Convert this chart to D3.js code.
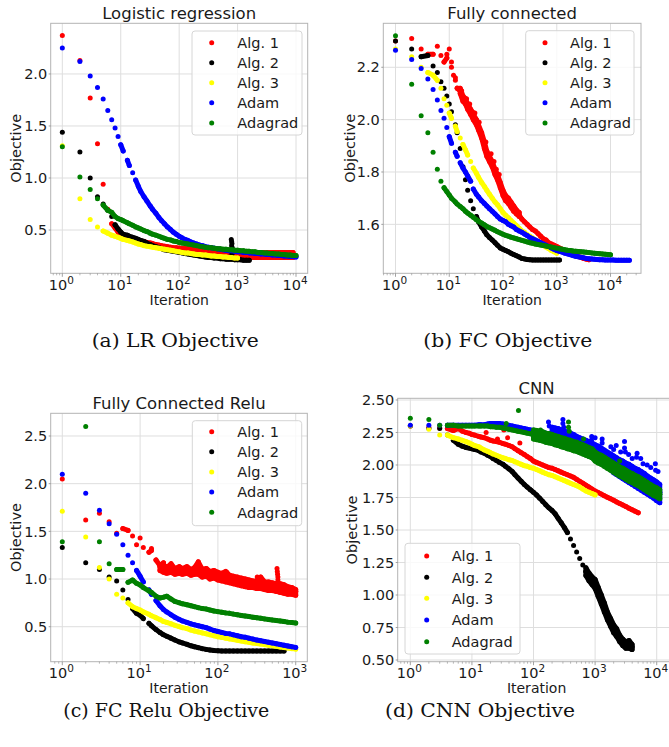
<!DOCTYPE html>
<html>
<head>
<meta charset="utf-8">
<script src="https://cdn.jsdelivr.net/npm/d3@7"></script>
<style>
  body { margin: 0; background: #fff; }
  svg { display: block; }
</style>
</head>
<body>
<svg id="fig" width="669" height="747"></svg>
<script>
// Iterations at which the objective is recorded (shared by every run).
const iterations = [1,2,3,4,5,6,7,8,9,10,
  11,13,14,16,18,20,22,25,28,32,35,40,45,50,56,63,71,79,89,
  100,112,126,141,158,178,200,224,251,282,316,355,398,447,501,562,631,708,794,891,
  1000,1120,1260,1410,1580,1780,2000,2240,2510,2820,3160,3550,3980,4470,5010,5620,6310,7080,7940,8910,
  10000,11200,12600,14100,15800,17800,20000,22400];

const seriesNames = ["Alg. 1", "Alg. 2", "Alg. 3", "Adam", "Adagrad"];
const seriesColors = ["#ff0000", "#000000", "#ffff00", "#0000ff", "#008000"];

// ---- Logistic regression ----
const lrAlg1 = [2.37,2.13,1.77,1.33,0.94,0.70,0.56,0.52,0.48,0.46,
  0.45,0.44,0.43,0.42,0.41,0.40,0.395,0.39,0.38,0.375,0.37,0.36,0.355,0.35,0.345,0.34,0.335,0.33,0.33,
  0.325,0.32,0.32,0.315,0.31,0.31,0.305,0.30,0.30,0.295,0.29,0.29,0.285,0.28,0.28,0.275,0.275,0.27,0.27,0.265,
  0.265,0.26,0.26,0.26,0.26,0.26,0.26,0.26,0.26,0.26,0.26,0.26,0.26,0.26,0.26,0.26,0.26,0.26,0.26,0.26];
// noisy spread [iteration, low, high]
const lrAlg1Band = [[100,0.30,0.325],[112,0.295,0.325],[126,0.29,0.32],[141,0.29,0.32],[158,0.285,0.315],[178,0.28,0.315],
  [200,0.275,0.31],[224,0.275,0.31],[251,0.27,0.305],[282,0.265,0.305],[316,0.26,0.30],[355,0.255,0.30],[398,0.255,0.295],
  [447,0.25,0.295],[501,0.245,0.29],[562,0.245,0.29],[631,0.24,0.29],[708,0.24,0.29],[794,0.24,0.285],[891,0.235,0.285],
  [1000,0.235,0.285],[1120,0.235,0.285],[1260,0.235,0.285],[1410,0.235,0.285],[1580,0.235,0.285],[1780,0.235,0.285],
  [2000,0.235,0.285],[2240,0.235,0.285],[2510,0.235,0.285],[2820,0.235,0.285],[3160,0.235,0.285],[3550,0.235,0.285],
  [3980,0.235,0.285],[4470,0.235,0.285],[5010,0.235,0.285],[5620,0.235,0.285],[6310,0.235,0.285],[7080,0.235,0.285],
  [7940,0.235,0.285],[8910,0.235,0.285]];
const lrAlg2 = [1.44,1.25,1.00,0.82,0.75,0.69,0.63,0.55,0.51,0.48,
  0.46,0.45,0.44,0.43,0.42,0.41,0.40,0.39,0.375,0.36,0.35,0.34,0.33,0.32,0.31,0.305,0.30,0.295,0.29,
  0.285,0.28,0.275,0.27,0.265,0.26,0.255,0.25,0.245,0.24,0.235,0.235,0.23,0.23,0.225,0.225,0.22,0.22,0.22,0.215,
  0.215,0.215,0.21,0.21,0.21];
const lrAlg2Extra = [[780,0.41],[790,0.39],[800,0.37],[790,0.35],[810,0.33],[800,0.31],[790,0.29],[805,0.27],[795,0.25]];
const lrAlg3 = [1.31,0.80,0.60,0.53,0.49,0.47,0.45,0.44,0.43,0.42,
  0.41,0.40,0.395,0.385,0.375,0.365,0.36,0.35,0.345,0.34,0.335,0.33,0.325,0.32,0.315,0.31,0.305,0.30,0.295,
  0.29,0.285,0.28,0.28,0.275,0.27,0.265,0.265,0.26,0.26,0.255,0.25,0.25,0.245,0.245,0.24,0.24,0.235,0.235,0.23,
  0.23];
const lrAdam = [2.25,2.12,1.98,1.87,1.76,1.65,1.56,1.48,1.40,1.32,
  1.26,1.17,1.12,1.05,0.98,0.92,0.87,0.82,0.78,0.73,0.70,0.66,0.62,0.59,0.56,0.53,0.505,0.48,0.46,
  0.44,0.425,0.41,0.40,0.385,0.375,0.365,0.355,0.35,0.34,0.335,0.33,0.325,0.32,0.315,0.31,0.305,0.30,0.30,0.295,
  0.29,0.29,0.285,0.285,0.28,0.28,0.275,0.275,0.27,0.27,0.265,0.265,0.26,0.26,0.255,0.255,0.25,0.25,0.245,0.245,
  0.24];
const lrAdagrad = [1.30,1.01,0.89,0.80,0.74,0.69,0.67,0.63,0.61,0.60,
  0.59,0.57,0.56,0.545,0.53,0.52,0.51,0.495,0.485,0.47,0.46,0.45,0.44,0.43,0.42,0.41,0.405,0.395,0.39,
  0.38,0.375,0.37,0.365,0.36,0.355,0.35,0.345,0.34,0.335,0.33,0.33,0.325,0.32,0.32,0.315,0.315,0.31,0.31,0.305,
  0.305,0.30,0.30,0.295,0.295,0.29,0.29,0.285,0.285,0.28,0.28,0.275,0.275,0.27,0.27,0.265,0.265,0.26,0.26,0.255,
  0.255];

// ---- Fully connected ----
const fcAlg1 = [2.30,2.31,2.27,2.25,2.25,2.28,2.245,2.22,2.235,2.27,
  2.20,2.15,2.12,2.11,2.08,2.07,2.05,2.03,2.01,1.99,1.97,1.94,1.90,1.87,1.85,1.83,1.80,1.78,1.75,
  1.72,1.70,1.69,1.675,1.66,1.645,1.635,1.62,1.61,1.60,1.59,1.58,1.575,1.565,1.555,1.545,1.54,1.53,1.525,1.52,
  1.515,1.51,1.505,1.50,1.495,1.49,1.485,1.48,1.477,1.474,1.47,1.467,1.465];
const fcAlg1Band = [[16,2.10,2.12],[18,2.07,2.09],[20,2.06,2.08],[22,2.04,2.06],[25,2.02,2.04],[28,2.00,2.02],[32,1.98,2.00],
  [35,1.96,1.98],[40,1.93,1.95],[45,1.89,1.915],[50,1.86,1.88],[56,1.84,1.86],[63,1.82,1.84],[71,1.79,1.81],[79,1.77,1.79],
  [89,1.74,1.76],[100,1.71,1.73],[112,1.69,1.71],[126,1.68,1.70],[141,1.665,1.685],[158,1.65,1.67],[178,1.64,1.655],[200,1.63,1.645]];
const fcAlg1Extra = [[9,2.25],[11,2.22],[12,2.17],[13,2.16],[15,2.12],[17,2.11],[19,2.08],[21,2.08],[24,2.06],[27,2.03],
  [30,2.025],[36,1.99],[48,1.915],[60,1.87],[68,1.84],[75,1.81],[85,1.79]];
const fcAlg2 = [2.30,2.27,2.24,2.245,2.205,2.18,2.145,2.12,2.09,2.06,
  2.03,1.98,1.95,1.89,1.82,1.77,1.73,1.69,1.66,1.63,1.61,1.59,1.575,1.56,1.55,1.54,1.53,1.52,1.51,
  1.505,1.50,1.495,1.49,1.485,1.48,1.475,1.47,1.468,1.466,1.465,1.464,1.464,1.464,1.464,1.464,1.464,1.464,1.464,1.464,
  1.464,1.464];
const fcAlg3 = [2.27,2.24,2.20,2.18,2.17,2.15,2.12,2.08,2.055,2.025,
  2.005,1.975,1.955,1.93,1.905,1.885,1.865,1.84,1.815,1.795,1.78,1.76,1.745,1.73,1.715,1.70,1.685,1.675,1.66,
  1.645,1.635,1.625,1.615,1.605,1.595,1.585,1.575,1.57,1.56,1.555,1.548,1.54,1.533,1.527,1.52,1.513,1.507,1.50,1.495,
  1.49];
const fcAdam = [2.265,2.23,2.195,2.155,2.115,2.075,2.035,2.005,1.97,1.935,
  1.91,1.875,1.86,1.835,1.815,1.80,1.785,1.765,1.735,1.715,1.705,1.69,1.68,1.67,1.66,1.65,1.64,1.63,1.62,
  1.615,1.61,1.60,1.595,1.59,1.58,1.575,1.57,1.563,1.557,1.55,1.545,1.54,1.535,1.53,1.525,1.52,1.515,1.51,1.505,
  1.50,1.497,1.494,1.49,1.487,1.484,1.481,1.478,1.476,1.474,1.472,1.47,1.469,1.468,1.467,1.466,1.465,1.465,1.464,1.464,
  1.464,1.464,1.463,1.463,1.463,1.463,1.463,1.463];
const fcAdagrad = [2.32,2.135,2.015,1.95,1.875,1.81,1.765,1.74,1.725,1.712,
  1.70,1.685,1.678,1.668,1.66,1.65,1.643,1.635,1.627,1.618,1.612,1.605,1.598,1.592,1.587,1.582,1.577,1.572,1.567,
  1.562,1.558,1.555,1.551,1.548,1.545,1.542,1.539,1.536,1.533,1.53,1.528,1.525,1.523,1.521,1.519,1.517,1.515,1.513,1.511,
  1.509,1.507,1.505,1.503,1.501,1.50,1.498,1.497,1.496,1.495,1.494,1.493,1.492,1.491,1.490,1.489,1.488,1.487,1.486,1.485,
  1.484];

// ---- Fully connected with ReLU ----
const fcrAlg1 = [2.05,1.62,1.69,1.60,1.48,1.53,1.51,1.45,1.36,1.43,
  1.33,1.28,1.30,1.20,1.14,1.17,1.10,1.11,1.08,1.10,1.08,1.09,1.07,1.09,1.12,1.06,1.08,1.05,1.06,
  1.03,1.02,1.01,1.00,0.99,0.98,0.97,0.96,0.95,0.95,0.94,0.94,0.93,0.93,0.92,0.92,0.91,0.90,0.89,0.88,
  0.87];
const fcrAlg1Band = [[18,1.09,1.13],[20,1.07,1.15],[22,1.06,1.12],[25,1.07,1.16],[28,1.05,1.11],[32,1.06,1.13],[35,1.05,1.11],
  [40,1.06,1.13],[45,1.04,1.10],[50,1.05,1.12],[56,1.05,1.18],[63,1.02,1.10],[71,1.03,1.11],[79,1.00,1.08],[89,1.01,1.09],
  [100,0.99,1.07],[112,0.98,1.06],[126,0.97,1.08],[141,0.96,1.04],[158,0.95,1.03],[178,0.94,1.02],[200,0.93,1.01],
  [224,0.92,1.00],[251,0.91,0.99],[282,0.91,0.98],[316,0.90,0.98],[355,0.90,1.02],[398,0.89,0.97],[447,0.88,0.97],
  [501,0.88,0.96],[562,0.87,0.95],[631,0.86,0.95],[708,0.85,0.94],[794,0.84,0.92],[891,0.84,0.91],[1000,0.83,0.89]];
const fcrAlg1Extra = [[575,1.11],[580,1.08],[585,1.05],[590,1.02],[590,0.99],[320,1.02],[130,1.07],[14,1.32]];
const fcrAlg2 = [1.33,1.17,1.10,1.02,0.98,0.885,0.785,0.69,0.64,0.62,
  0.585,0.535,0.51,0.47,0.44,0.415,0.40,0.38,0.36,0.34,0.33,0.315,0.30,0.29,0.28,0.27,0.262,0.256,0.25,
  0.248,0.246,0.245,0.245,0.245,0.245,0.245,0.245,0.245,0.245,0.245,0.245,0.245,0.245,0.245,0.245,0.245,0.245];
const fcrAlg3 = [1.71,1.44,1.12,1.00,0.84,0.80,0.75,0.71,0.69,0.675,
  0.655,0.63,0.615,0.595,0.575,0.555,0.545,0.53,0.515,0.50,0.49,0.48,0.465,0.455,0.445,0.435,0.425,0.415,0.405,
  0.395,0.388,0.38,0.372,0.365,0.357,0.35,0.343,0.336,0.33,0.324,0.318,0.312,0.306,0.30,0.294,0.288,0.282,0.276,0.27,
  0.265];
const fcrAdam = [2.10,1.90,1.72,1.58,1.47,1.36,1.25,1.17,1.09,1.03,
  0.97,0.885,0.84,0.775,0.72,0.68,0.655,0.625,0.60,0.575,0.56,0.545,0.53,0.52,0.51,0.50,0.49,0.475,0.46,
  0.45,0.44,0.43,0.425,0.415,0.405,0.395,0.39,0.38,0.37,0.36,0.352,0.345,0.337,0.33,0.322,0.314,0.306,0.298,0.29,
  0.283];
const fcrAdagrad = [1.39,2.60,1.39,1.16,1.10,1.10,0.965,0.99,0.955,0.937,
  0.91,0.875,0.86,0.82,0.80,0.81,0.82,0.79,0.765,0.75,0.74,0.73,0.72,0.71,0.70,0.69,0.685,0.675,0.665,
  0.658,0.652,0.645,0.64,0.632,0.625,0.618,0.612,0.606,0.60,0.594,0.588,0.582,0.576,0.57,0.565,0.56,0.554,0.548,0.543,
  0.538];

// ---- CNN ----
const cnnAlg1 = [2.30,2.29,2.285,2.28,2.265,2.28,2.26,2.25,2.245,2.235,
  2.23,2.22,2.215,2.21,2.20,2.19,2.185,2.18,2.175,2.165,2.16,2.15,2.14,2.125,2.11,2.095,2.08,2.065,2.05,
  2.03,2.02,2.01,2.00,1.99,1.98,1.975,1.965,1.955,1.945,1.935,1.925,1.915,1.905,1.89,1.875,1.86,1.845,1.83,1.815,
  1.80,1.788,1.776,1.764,1.752,1.74,1.728,1.716,1.704,1.692,1.68,1.668,1.656,1.644,1.632];
const cnnAlg1Extra = [[17,2.25],[33,2.27],[38,2.21],[60,2.17],[26,2.20]];
const cnnAlg2 = [2.30,2.28,2.28,2.23,2.19,2.16,2.145,2.135,2.13,2.125,
  2.12,2.11,2.10,2.09,2.075,2.065,2.05,2.035,2.02,2.005,1.99,1.97,1.95,1.925,1.90,1.875,1.85,1.83,1.81,
  1.79,1.77,1.745,1.72,1.695,1.67,1.65,1.625,1.59,1.555,1.52,1.48,1.43,1.38,1.33,1.28,1.23,1.18,1.14,1.11,
  1.08,1.02,0.96,0.90,0.84,0.79,0.74,0.71,0.66,0.63,0.61,0.61,0.60];
const cnnAlg2Band = [[708,1.15,1.21],[794,1.11,1.17],[891,1.08,1.14],[1000,1.05,1.12],[1120,0.99,1.06],[1260,0.93,1.00],
  [1410,0.87,0.94],[1580,0.81,0.87],[1780,0.76,0.82],[2000,0.71,0.77],[2240,0.68,0.74],[2510,0.64,0.69],[2820,0.61,0.66],
  [3160,0.59,0.64],[3550,0.59,0.65],[3980,0.58,0.62]];
const cnnAlg3 = [2.30,2.275,2.23,2.23,2.21,2.20,2.19,2.18,2.17,2.16,
  2.15,2.14,2.13,2.115,2.105,2.095,2.085,2.075,2.065,2.055,2.05,2.04,2.035,2.025,2.015,2.005,1.995,1.99,1.98,
  1.975,1.965,1.955,1.945,1.935,1.925,1.92,1.91,1.90,1.89,1.88,1.87,1.86,1.85,1.84,1.83,1.815,1.80,1.79,1.78,
  1.77];
const cnnAdam = [2.305,2.305,2.305,2.305,2.305,2.305,2.305,2.305,2.305,2.305,
  2.305,2.31,2.31,2.31,2.315,2.32,2.32,2.32,2.32,2.315,2.31,2.305,2.30,2.295,2.29,2.285,2.28,2.275,2.27,
  2.265,2.26,2.255,2.25,2.245,2.24,2.235,2.225,2.22,2.21,2.20,2.195,2.185,2.175,2.165,2.155,2.145,2.135,2.125,2.115,
  2.10,2.09,2.075,2.06,2.045,2.03,2.015,2.00,1.985,1.975,1.96,1.95,1.935,1.92,1.91,1.895,1.88,1.86,1.845,1.83,
  1.81,1.79];
const cnnAdamBand = [[200,2.18,2.29],[224,2.175,2.285],[251,2.165,2.28],[282,2.16,2.27],[316,2.15,2.26],[355,2.145,2.255],
  [398,2.13,2.245],[447,2.12,2.235],[501,2.11,2.22],[562,2.10,2.21],[631,2.09,2.20],[708,2.08,2.19],[794,2.07,2.18],
  [891,2.06,2.17],[1000,2.045,2.155],[1120,2.03,2.145],[1260,2.015,2.13],[1410,2.0,2.115],[1580,1.985,2.10],[1780,1.965,2.085],
  [2000,1.94,2.07],[2240,1.925,2.055],[2510,1.91,2.04],[2820,1.895,2.03],[3160,1.88,2.015],[3550,1.865,2.005],[3980,1.85,1.99],
  [4470,1.835,1.975],[5010,1.82,1.965],[5620,1.805,1.95],[6310,1.79,1.935],[7080,1.775,1.915],[7940,1.76,1.90],[8910,1.745,1.885],
  [10000,1.725,1.87],[11200,1.71,1.85]];
const cnnAdamExtra = [[175,2.33],[180,2.30],[300,2.35],[300,2.32],[310,2.29],[870,2.19],[880,2.22],[1000,2.21],[1300,2.20],
  [1300,2.17],[1800,2.14],[2000,2.12],[2200,2.15],[2600,2.10],[3000,2.18],[3000,2.13],[3100,2.10],[3500,2.08],[4000,2.05],
  [4700,2.06],[4800,2.09],[5500,2.05],[6000,2.01],[7000,2.00],[8000,1.98],[9500,2.01],[9600,1.96],[10500,1.95]];
const cnnAdagrad = [2.36,2.35,2.305,2.305,2.305,2.30,2.30,2.30,2.30,2.30,
  2.30,2.30,2.30,2.30,2.30,2.295,2.295,2.29,2.29,2.285,2.28,2.275,2.27,2.265,2.26,2.255,2.25,2.245,2.24,
  2.235,2.23,2.225,2.22,2.21,2.205,2.20,2.19,2.185,2.175,2.17,2.16,2.155,2.145,2.14,2.13,2.12,2.11,2.10,2.09,
  2.065,2.05,2.04,2.025,2.01,1.995,1.98,1.965,1.95,1.94,1.925,1.91,1.90,1.885,1.875,1.86,1.845,1.83,1.815,1.80,
  1.79,1.775];
const cnnAdagradBand = [[100,2.20,2.27],[112,2.195,2.265],[126,2.19,2.26],[141,2.185,2.255],[158,2.175,2.245],[178,2.17,2.24],
  [200,2.165,2.235],[224,2.155,2.225],[251,2.15,2.22],[282,2.14,2.21],[316,2.135,2.205],[355,2.125,2.195],[398,2.12,2.19],
  [447,2.11,2.18],[501,2.105,2.175],[562,2.095,2.165],[631,2.085,2.155],[708,2.075,2.145],[794,2.065,2.135],[891,2.055,2.125],
  [1000,2.03,2.10],[1120,2.015,2.085],[1260,2.005,2.075],[1410,1.99,2.06],[1580,1.975,2.045],[1780,1.96,2.03],[2000,1.945,2.015],
  [2240,1.93,2.00],[2510,1.915,1.985],[2820,1.905,1.975],[3160,1.89,1.96],[3550,1.875,1.945],[3980,1.865,1.935],[4470,1.85,1.92],
  [5010,1.84,1.91],[5620,1.825,1.895],[6310,1.81,1.88],[7080,1.795,1.865],[7940,1.78,1.85],[8910,1.765,1.835],[10000,1.755,1.825],
  [11200,1.74,1.81]];
const cnnAdagradExtra = [[36,2.32],[57,2.42],[130,2.27],[370,2.33],[370,2.29],[380,2.26],[650,2.20],[2500,2.03]];

// Tick labels
const yTicksLR = [0.5, 1.0, 1.5, 2.0];
const yTicksFC = [1.6, 1.8, 2.0, 2.2];
const yTicksFCR = [0.5, 1.0, 1.5, 2.0, 2.5];
const yTicksCNN = [0.50, 0.75, 1.00, 1.25, 1.50, 1.75, 2.00, 2.25, 2.50];
const xExponentsFour = [0, 1, 2, 3, 4];
const xExponentsThree = [0, 1, 2, 3];

const panels = [
  { title: "Logistic regression", caption: "(a) LR Objective",
    runs: [{v: lrAlg1, band: lrAlg1Band}, {v: lrAlg2, extra: lrAlg2Extra}, {v: lrAlg3}, {v: lrAdam}, {v: lrAdagrad}],
    area: {l: 50.7, r: 307.7, t: 23.3, b: 273.3}, xLog: [-0.199, 4.2], y: [0.084, 2.487],
    yTicks: yTicksLR, yFmt: ".1f", xExp: xExponentsFour, ylabelX: 16,
    legend: {x: 192, y: 31, w: 110, h: 104, mx: 211.7, tx: 237.3, rows: [42.7, 62.7, 82.7, 102.7, 123.0]},
    cap: {x: 91.7, w: 167, y: 347} },
  { title: "Fully connected", caption: "(b) FC Objective",
    runs: [{v: fcAlg1, band: fcAlg1Band, extra: fcAlg1Extra}, {v: fcAlg2}, {v: fcAlg3}, {v: fcAdam}, {v: fcAdagrad}],
    area: {l: 383.3, r: 641, t: 23.3, b: 273.3}, xLog: [-0.227, 4.567], y: [1.413, 2.368],
    yTicks: yTicksFC, yFmt: ".1f", xExp: xExponentsFour, ylabelX: 350,
    legend: {x: 525.7, y: 30.7, w: 108.3, h: 104.3, mx: 545, tx: 570, rows: [42.7, 62.7, 82.7, 102.7, 123.0]},
    cap: {x: 423.3, w: 169, y: 347} },
  { title: "Fully Connected Relu", caption: "(c) FC Relu Objective",
    runs: [{v: fcrAlg1, band: fcrAlg1Band, extra: fcrAlg1Extra}, {v: fcrAlg2}, {v: fcrAlg3}, {v: fcrAdam}, {v: fcrAdagrad}],
    area: {l: 50.7, r: 307.3, t: 413.3, b: 661.7}, xLog: [-0.149, 3.149], y: [0.133, 2.738],
    yTicks: yTicksFCR, yFmt: ".1f", xExp: xExponentsThree, ylabelX: 16,
    legend: {x: 192.3, y: 420.7, w: 109.4, h: 105, mx: 211.7, tx: 237.3, rows: [431.7, 451.7, 472, 492, 512.3]},
    cap: {x: 63.3, w: 206, y: 717} },
  { title: "CNN", caption: "(d) CNN Objective",
    runs: [{v: cnnAlg1, extra: cnnAlg1Extra}, {v: cnnAlg2, band: cnnAlg2Band}, {v: cnnAlg3},
           {v: cnnAdam, band: cnnAdamBand, extra: cnnAdamExtra}, {v: cnnAdagrad, band: cnnAdagradBand, extra: cnnAdagradExtra}],
    area: {l: 397.7, r: 675.5, t: 398.3, b: 661.7}, xLog: [-0.205, 4.305], y: [0.487, 2.513],
    yTicks: yTicksCNN, yFmt: ".2f", xExp: xExponentsFour, ylabelX: 351.7,
    legend: {x: 405, y: 543.3, w: 115, h: 110.7, mx: 426.7, tx: 451.7, rows: [556, 577.3, 598.3, 620, 641.7]},
    cap: {x: 385, w: 190, y: 717} }
];

const svg = d3.select("#fig");
const FONT = "'DejaVu Sans', sans-serif";
const SPINE = "#b3b3b3", GRID = "#dedede", TICK = "#8a8a8a", INK = "#1a1a1a";
const R = 2.5;          // marker radius
const JOIN_GAP = 7;     // markers closer than this (px) merge into a continuous trace

panels.forEach((p, pi) => {
  const a = p.area;
  const x = d3.scaleLog().domain([Math.pow(10, p.xLog[0]), Math.pow(10, p.xLog[1])]).range([a.l, a.r]);
  const y = d3.scaleLinear().domain(p.y).range([a.b, a.t]);
  const g = svg.append("g");

  const clipId = "clip" + pi;
  svg.append("clipPath").attr("id", clipId)
    .append("rect").attr("x", a.l).attr("y", a.t).attr("width", a.r - a.l).attr("height", a.b - a.t);

  // grid
  const majors = p.xExp.map(e => Math.pow(10, e));
  g.selectAll(null).data(majors).join("line")
    .attr("x1", d => x(d)).attr("x2", d => x(d)).attr("y1", a.t).attr("y2", a.b)
    .attr("stroke", GRID).attr("stroke-width", 1);
  g.selectAll(null).data(p.yTicks).join("line")
    .attr("x1", a.l).attr("x2", a.r).attr("y1", d => y(d)).attr("y2", d => y(d))
    .attr("stroke", GRID).attr("stroke-width", 1);

  // scatter runs
  const pg = g.append("g").attr("clip-path", `url(#${clipId})`);
  p.runs.forEach((run, si) => {
    const col = seriesColors[si];
    const rg = pg.append("g");

    // noisy spread: filled between low and high readings, edged by the marker radius
    if (run.band) {
      const area = d3.area().x(d => x(d[0])).y0(d => y(d[1])).y1(d => y(d[2])).curve(d3.curveLinear);
      rg.append("path").datum(run.band).attr("d", area)
        .attr("fill", col).attr("stroke", col).attr("stroke-width", 2 * R).attr("stroke-linejoin", "round");
    }

    // main trace: dense stretches of markers merge into a solid stroke
    const pts = run.v.map((val, i) => [iterations[i], val]);
    const segs = [];
    let cur = [pts[0]];
    for (let i = 1; i < pts.length; i++) {
      const dx = x(pts[i][0]) - x(pts[i - 1][0]), dy = y(pts[i][1]) - y(pts[i - 1][1]);
      if (Math.hypot(dx, dy) < JOIN_GAP) cur.push(pts[i]);
      else { segs.push(cur); cur = [pts[i]]; }
    }
    segs.push(cur);
    const line = d3.line().x(d => x(d[0])).y(d => y(d[1]));
    segs.filter(s => s.length > 1).forEach(s => {
      rg.append("path").datum(s).attr("d", line).attr("fill", "none")
        .attr("stroke", col).attr("stroke-width", 2 * R)
        .attr("stroke-linecap", "round").attr("stroke-linejoin", "round");
    });

    const dots = pts.concat(run.extra || []);
    if (run.band) run.band.forEach(b => { dots.push([b[0], b[1]]); dots.push([b[0], b[2]]); });
    rg.append("g").selectAll("circle").data(dots).join("circle")
      .attr("cx", d => x(d[0])).attr("cy", d => y(d[1])).attr("r", R).attr("fill", col);
  });

  // spines
  g.append("rect").attr("x", a.l).attr("y", a.t).attr("width", a.r - a.l).attr("height", a.b - a.t)
    .attr("fill", "none").attr("stroke", SPINE).attr("stroke-width", 1);

  // x ticks (major and minor)
  const minors = [];
  for (let e = Math.floor(p.xLog[0]); e <= Math.ceil(p.xLog[1]); e++) {
    for (let m = 2; m <= 9; m++) {
      const v = m * Math.pow(10, e);
      if (Math.log10(v) > p.xLog[0] && Math.log10(v) < p.xLog[1]) minors.push(v);
    }
  }
  g.selectAll(null).data(minors).join("line")
    .attr("x1", d => x(d)).attr("x2", d => x(d)).attr("y1", a.b).attr("y2", a.b + 2)
    .attr("stroke", TICK).attr("stroke-width", 0.6);
  g.selectAll(null).data(majors).join("line")
    .attr("x1", d => x(d)).attr("x2", d => x(d)).attr("y1", a.b).attr("y2", a.b + 3.5)
    .attr("stroke", TICK).attr("stroke-width", 0.8);
  const xl = g.selectAll(null).data(p.xExp).join("text")
    .attr("x", d => x(Math.pow(10, d)) - 1).attr("y", a.b + 16.7)
    .attr("text-anchor", "middle").attr("font-family", FONT).attr("font-size", 14.5).attr("fill", INK);
  xl.append("tspan").text("10");
  xl.append("tspan").attr("dy", -6).attr("font-size", 10.5).text(d => d);

  // y ticks
  const fmt = d3.format(p.yFmt);
  g.selectAll(null).data(p.yTicks).join("line")
    .attr("x1", a.l - 2).attr("x2", a.l).attr("y1", d => y(d)).attr("y2", d => y(d))
    .attr("stroke", TICK).attr("stroke-width", 0.8);
  g.selectAll(null).data(p.yTicks).join("text")
    .attr("x", a.l - 3.5).attr("y", d => y(d) + 5.2)
    .attr("text-anchor", "end").attr("font-family", FONT).attr("font-size", 14.5).attr("fill", INK)
    .text(d => fmt(d));

  // axis labels and title
  g.append("text").attr("x", (a.l + a.r) / 2).attr("y", a.b + 31.5)
    .attr("text-anchor", "middle").attr("font-family", FONT).attr("font-size", 14).attr("fill", INK)
    .text("Iteration");
  g.append("text")
    .attr("transform", `translate(${p.ylabelX},${(a.t + a.b) / 2}) rotate(-90)`)
    .attr("text-anchor", "middle").attr("dominant-baseline", "central")
    .attr("font-family", FONT).attr("font-size", 14.5).attr("fill", INK).text("Objective");
  g.append("text").attr("x", (a.l + a.r) / 2).attr("y", a.t - 4)
    .attr("text-anchor", "middle").attr("font-family", FONT).attr("font-size", 16.5).attr("fill", INK)
    .text(p.title);

  // legend
  const L = p.legend;
  g.append("rect").attr("x", L.x).attr("y", L.y).attr("width", L.w).attr("height", L.h)
    .attr("rx", 3).attr("fill", "#fff").attr("fill-opacity", 0.8).attr("stroke", "#d6d6d6").attr("stroke-width", 1);
  seriesNames.forEach((nm, si) => {
    g.append("circle").attr("cx", L.mx).attr("cy", L.rows[si]).attr("r", R).attr("fill", seriesColors[si]);
    g.append("text").attr("x", L.tx).attr("y", L.rows[si] + 5.2)
      .attr("font-family", FONT).attr("font-size", 14.5).attr("fill", INK).text(nm);
  });

  // caption
  svg.append("text").attr("x", p.cap.x).attr("y", p.cap.y)
    .attr("font-family", "'DejaVu Serif', serif").attr("font-size", 19)
    .attr("textLength", p.cap.w).attr("lengthAdjust", "spacingAndGlyphs").attr("fill", "#111")
    .text(p.caption);
});
</script>
</body>
</html>
